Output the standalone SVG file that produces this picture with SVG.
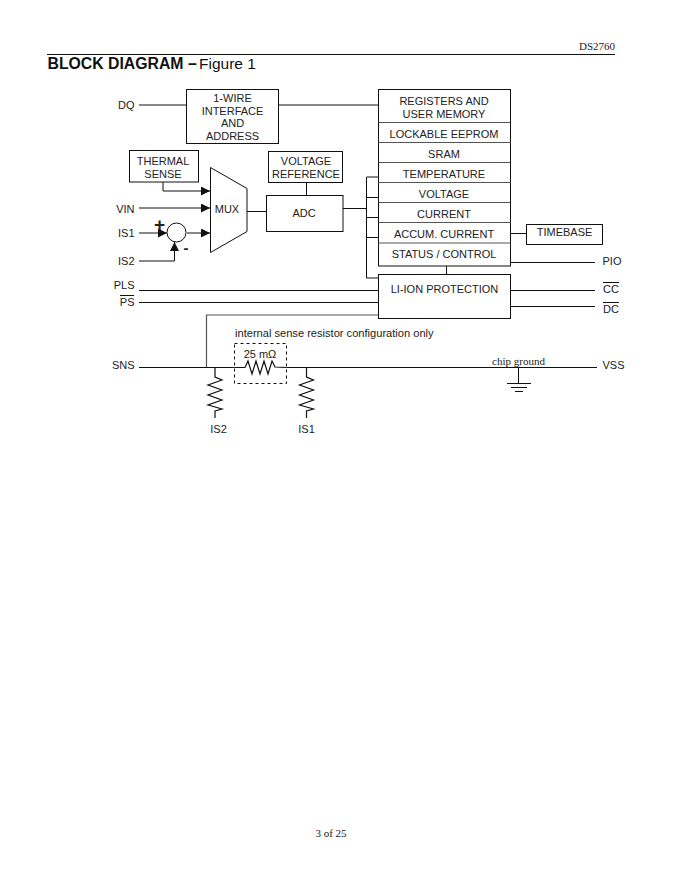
<svg xmlns="http://www.w3.org/2000/svg" width="680" height="880" viewBox="0 0 680 880">
<style>
.b{fill:#fff;stroke:#111;stroke-width:1}
.w{fill:none;stroke:#111;stroke-width:1}
.r{fill:none;stroke:#111;stroke-width:1.200}
.g{fill:none;stroke:#555;stroke-width:1.200}
.t{font-family:"Liberation Sans",Arial,sans-serif;font-size:11px;fill:#222;text-anchor:middle}
.l{text-anchor:end}
.s{font-family:"Liberation Serif","Times New Roman",serif;font-size:11px;fill:#222}
</style>
<defs>
<marker id="a" markerUnits="userSpaceOnUse" markerWidth="10" markerHeight="10" refX="9" refY="4.500" orient="auto"><path d="M0 0L9 4.500L0 9Z" fill="#111"/></marker>
</defs>
<rect width="680" height="880" fill="#fff"/>
<g id="page">
<path class="w" d="M47 54.500H615"/>
<text class="s" x="615" y="50" text-anchor="end">DS2760</text>
<text x="47.500" y="69" font-family="Liberation Sans,Arial,sans-serif" font-size="15.800" fill="#111"><tspan font-weight="bold">BLOCK DIAGRAM –</tspan><tspan x="199" font-size="15.500">Figure 1</tspan></text>
<text class="s" x="331" y="837" text-anchor="middle">3 of 25</text>
</g>
<g id="connectors">
<path class="w" d="M139 105H186.500M278 105H378.500"/>
<path class="w" marker-end="url(#a)" d="M163 182V191H210"/>
<path class="w" marker-end="url(#a)" d="M139 208H210"/>
<path class="w" marker-end="url(#a)" d="M187 233H210"/>
<path class="w" marker-end="url(#a)" d="M139 233H167"/>
<path class="w" marker-end="url(#a)" d="M139 261H174.500V242"/>
<path class="w" d="M247 211.500H266.500M306.500 182V195.500M343 208.500H366.500"/>
<path class="w" d="M378.500 177H366.500V278H378.500M366.500 197.500H378.500M366.500 217.500H378.500M366.500 237.500H378.500"/>
<path class="w" d="M510.500 233.500H526.500M510.500 262.500H595M446.500 266V274.500"/>
<path class="w" d="M139 290.500H378.500M139 302.500H378.500M510.500 290.500H595M510.500 306.500H595"/>
<path class="g" d="M378.500 315H206.500V367.500"/>
<path class="w" d="M139 367.500H234.500M286.500 367.500H597"/>
<path class="r" d="M234.500 367.500H245L248 361L252 374L256 361L260 374L264 361L268 374L272 361L275 367L286.500 367.500"/>
<path class="r" d="M215 367.500V377L222 380L208 385L222 390L208 395L222 400L208 405L222 409L215 411V418"/>
<path class="r" d="M306.500 367.500V377L313.500 380L299.500 385L313.500 390L299.500 395L313.500 400L299.500 405L313.500 409L306.500 411V418"/>
<path class="w" d="M518.500 367.500V383M507 383.500H531M511 387.500H527M515 391.500H523"/>
</g>
<g id="dq-interface"><rect class="b" x="186.500" y="89.500" width="92" height="54"/>
<text class="t" x="232.500" y="102">1-WIRE</text><text class="t" x="232.500" y="115">INTERFACE</text><text class="t" x="232.500" y="127">AND</text><text class="t" x="232.500" y="140">ADDRESS</text></g>
<g id="thermal"><rect class="b" x="129.500" y="150.500" width="69" height="31.500"/>
<text class="t" x="163" y="165">THERMAL</text><text class="t" x="163" y="178">SENSE</text></g>
<g id="mux"><path class="b" d="M210.500 167.500L247 188.500V231.500L210.500 252.500Z"/>
<text class="t" x="227" y="213">MUX</text></g>
<g id="sum"><circle class="b" cx="176.500" cy="232.500" r="9.500"/>
<text class="t" x="159.500" y="231" style="font-size:19px;font-weight:bold">+</text><text class="t" x="186" y="253" style="font-size:15px;font-weight:bold">-</text></g>
<g id="vref"><rect class="b" x="268.500" y="151.500" width="74" height="31"/>
<text class="t" x="306" y="165">VOLTAGE</text><text class="t" x="306" y="178">REFERENCE</text></g>
<g id="adc"><rect class="b" x="266.500" y="195.500" width="76.500" height="36"/>
<text class="t" x="304" y="217">ADC</text></g>
<g id="registers"><rect class="b" x="378.500" y="89.500" width="132" height="176.500"/>
<path class="g" d="M378.500 122.500H510.500M378.500 142.500H510.500M378.500 162.500H510.500M378.500 182.500H510.500M378.500 202.500H510.500M378.500 222.500H510.500M378.500 243H510.500"/>
<text class="t" x="444" y="105">REGISTERS AND</text><text class="t" x="444" y="118">USER MEMORY</text>
<text class="t" x="444" y="138">LOCKABLE EEPROM</text><text class="t" x="444" y="158">SRAM</text>
<text class="t" x="444" y="178">TEMPERATURE</text><text class="t" x="444" y="198">VOLTAGE</text>
<text class="t" x="444" y="218">CURRENT</text><text class="t" x="444" y="238">ACCUM. CURRENT</text>
<text class="t" x="444" y="258">STATUS / CONTROL</text></g>
<g id="timebase"><rect class="b" x="526.500" y="224.500" width="76" height="20"/>
<text class="t" x="564.500" y="236">TIMEBASE</text></g>
<g id="protection"><rect class="b" x="378.500" y="274.500" width="132" height="44"/>
<text class="t" x="444.500" y="293">LI-ION PROTECTION</text></g>
<g id="sense"><rect x="234.500" y="343.500" width="52" height="40" fill="none" stroke="#111" stroke-dasharray="3 3"/>
<text class="t" x="260" y="358">25 mΩ</text>
<text class="t" x="235" y="337" style="text-anchor:start;font-size:11.100px">internal sense resistor configuration only</text>
<text class="s" x="518.500" y="365" text-anchor="middle">chip ground</text></g>
<g id="labels">
<text class="t l" x="134.500" y="109">DQ</text><text class="t l" x="134.500" y="213">VIN</text>
<text class="t l" x="134.500" y="237">IS1</text><text class="t l" x="134.500" y="265">IS2</text>
<text class="t l" x="134.500" y="289">PLS</text><text class="t l" x="134.500" y="306">PS</text>
<path class="w" d="M120 295.500H134"/>
<text class="t l" x="134.500" y="369">SNS</text>
<text class="t" x="218.500" y="433">IS2</text><text class="t" x="306.500" y="433">IS1</text>
<text class="t" x="612" y="265">PIO</text><text class="t" x="611" y="293">CC</text><text class="t" x="611" y="313">DC</text>
<path class="w" d="M603 282.500H619M603 302.500H619"/>
<text class="t" x="613.500" y="369">VSS</text>
</g>
</svg>
